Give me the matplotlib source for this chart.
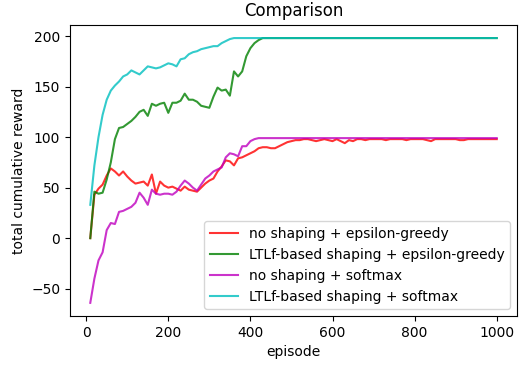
import matplotlib
matplotlib.use('Agg')
import matplotlib.pyplot as plt
import numpy as np

episodes = np.arange(10, 1001, 10)

# no shaping + epsilon-greedy
red = [0, 43, 49, 53, 62, 69, 66, 62, 66, 61,
       57, 54, 55, 56, 52, 63, 44, 56, 52, 50,
       51, 49, 47, 51, 48, 47, 46, 50, 54, 57,
       59, 66, 71, 77, 76, 72, 79, 80, 82, 84,
       86, 89, 90, 90, 89, 89, 91, 93, 95, 96,
       97, 97, 98, 98, 97, 96, 97, 98, 97, 96,
       98, 96, 94, 97, 96, 98, 98, 97, 98, 98,
       98, 98, 97, 98, 98, 98, 98, 97, 98, 98,
       98, 98, 97, 96, 98, 98, 98, 98, 98, 98,
       97, 97, 98, 98, 98, 98, 98, 98, 98, 98]

# LTLf-based shaping + epsilon-greedy
green = [0, 46, 44, 45, 58, 75, 98, 109, 110, 113,
         116, 120, 125, 127, 121, 133, 131, 133, 134, 124,
         134, 134, 136, 143, 137, 137, 135, 131, 130, 129,
         140, 149, 146, 147, 141, 165, 160, 165, 180, 188,
         193, 196, 198] + [198] * 57

# no shaping + softmax
magenta = [-64, -40, -22, -14, 8, 15, 14, 26, 27, 29,
           31, 35, 45, 40, 33, 48, 44, 43, 44, 44,
           43, 46, 52, 57, 54, 50, 47, 53, 59, 62,
           66, 68, 70, 80, 84, 83, 81, 91, 91, 96,
           98, 99] + [99] * 58

# LTLf-based shaping + softmax
cyan = [33, 72, 100, 122, 137, 146, 151, 155, 160, 162,
        166, 164, 162, 166, 170, 169, 168, 169, 171, 173,
        172, 170, 177, 178, 182, 184, 185, 187, 188, 189,
        190, 190, 193, 195, 197, 198] + [198] * 64

fig = plt.figure(figsize=(5.26, 3.65), dpi=100)
ax = fig.add_axes([0.133, 0.134, 0.85, 0.798])
ax.plot(episodes, red, color='r', alpha=0.8, label='no shaping + epsilon-greedy')
ax.plot(episodes, green, color='g', alpha=0.8, label='LTLf-based shaping + epsilon-greedy')
ax.plot(episodes, magenta, color='m', alpha=0.8, label='no shaping + softmax')
ax.plot(episodes, cyan, color='c', alpha=0.8, label='LTLf-based shaping + softmax')
ax.set_title('Comparison')
ax.set_xlabel('episode')
ax.set_ylabel('total cumulative reward')
ax.legend(loc='lower right')
fig.savefig('out.png')
